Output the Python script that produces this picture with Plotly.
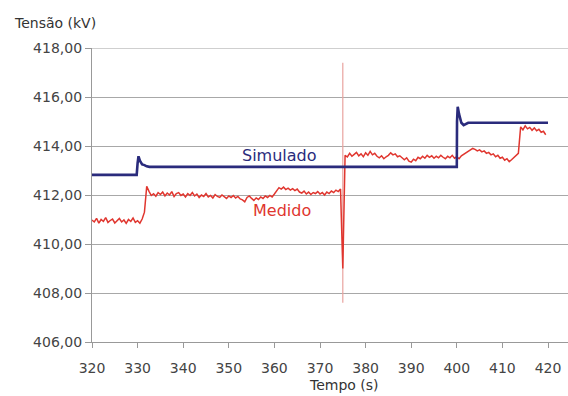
import numpy as np
import plotly.graph_objects as go

# ---- data ----
sim_t = [320.0, 329.8, 330.0, 330.2, 330.5, 331.0, 331.5, 332.0, 332.6, 400.0,
         400.05, 400.2, 400.5, 401.0, 401.5, 402.0, 402.5, 420.0]
sim_v = [412.82, 412.82, 413.30, 413.58, 413.40, 413.25, 413.22, 413.17, 413.15, 413.15,
         415.00, 415.60, 415.30, 414.95, 414.85, 414.90, 414.95, 414.95]

med_v = [
    # 320.0 - 331.5
    410.98, 410.90, 411.05, 410.85, 411.00, 410.92, 411.08, 410.88, 410.96, 411.02,
    410.86, 410.94, 411.04, 410.90, 410.98, 410.84, 411.00, 410.92, 411.06, 410.88,
    410.95, 410.85, 411.02, 411.30,
    # 332.0 - 374.5
    412.35, 412.15, 411.98, 412.05, 411.95, 412.10, 412.02, 412.12, 411.96, 412.08,
    412.00, 412.14, 411.94, 412.06, 412.10, 411.98, 412.04, 411.92, 412.06, 411.98,
    412.10, 411.96, 412.04, 411.90, 412.00, 411.94, 412.06, 411.92, 411.98, 411.88,
    412.02, 411.94, 411.90, 412.00, 411.92, 411.86, 411.96, 411.90, 411.98, 411.88,
    411.94, 411.84, 411.80, 411.72, 411.90, 411.96, 411.86, 411.78, 411.88, 411.82,
    411.92, 411.86, 411.96, 411.90, 411.98, 411.92, 412.04, 412.20, 412.30, 412.24,
    412.32, 412.22, 412.28, 412.20, 412.26, 412.18, 412.24, 412.12, 412.08, 412.16,
    412.04, 412.12, 412.02, 412.10, 412.06, 412.14, 412.04, 412.10, 412.00, 412.12,
    412.06, 412.16, 412.10, 412.20, 412.14, 412.24,
    # 375.0
    409.00,
    # 375.5 - 399.5
    413.62, 413.55, 413.70, 413.58, 413.66, 413.74, 413.60, 413.68, 413.56, 413.72,
    413.62, 413.78, 413.64, 413.70, 413.58, 413.52, 413.60, 413.48, 413.56, 413.62,
    413.72, 413.64, 413.68, 413.56, 413.60, 413.50, 413.44, 413.52, 413.38, 413.34,
    413.46, 413.40, 413.54, 413.48, 413.58, 413.50, 413.62, 413.54, 413.60, 413.50,
    413.58, 413.52, 413.62, 413.54, 413.48, 413.58, 413.52, 413.62, 413.50,
    # 400.0 - 419.5
    413.56, 413.48, 413.60, 413.66, 413.72, 413.78, 413.84, 413.90, 413.86, 413.80,
    413.84, 413.76, 413.80, 413.70, 413.74, 413.64, 413.68, 413.56, 413.62, 413.50,
    413.54, 413.42, 413.48, 413.36, 413.44, 413.52, 413.58, 413.70, 414.78, 414.66,
    414.82, 414.70, 414.76, 414.64, 414.74, 414.62, 414.68, 414.56, 414.60, 414.46,
]
med_t = list(320.0 + 0.5 * np.arange(len(med_v)))

spike_t = [375.0, 375.0]
spike_v = [407.6, 417.4]

x_ticks = [320, 330, 340, 350, 360, 370, 380, 390, 400, 410, 420]
y_ticks = [406, 408, 410, 412, 414, 416, 418]

# ---- layout geometry ----
W, H = 568, 396
ML, MR, MT, MB = 92, 0, 48, 54
PW = W - ML - MR
PH = H - MT - MB

FONT = "DejaVu Sans"
NAVY = "#2a2b7c"
RED = "#e0362f"

fig = go.Figure()
fig.add_trace(go.Scatter(x=spike_t, y=spike_v, mode="lines",
                         line=dict(color="#e9a39f", width=1.2), hoverinfo="skip"))
fig.add_trace(go.Scatter(x=med_t, y=med_v, mode="lines",
                         line=dict(color=RED, width=1.5)))
fig.add_trace(go.Scatter(x=sim_t, y=sim_v, mode="lines",
                         line=dict(color=NAVY, width=2.6)))

# top gridline at the upper range limit
fig.add_shape(type="line", xref="paper", yref="y", x0=0, x1=1,
              y0=y_ticks[-1], y1=y_ticks[-1],
              line=dict(color="#cfcfcf", width=2), layer="below")

fig.add_annotation(x=361.1, y=413.63, text="Simulado", showarrow=False,
                   font=dict(family=FONT, size=16, color=NAVY))
fig.add_annotation(x=361.7, y=411.35, text="Medido", showarrow=False,
                   font=dict(family=FONT, size=16, color=RED))

fig.add_annotation(xref="paper", yref="paper", x=(12 - ML) / PW, y=(H - MB - 23) / PH,
                   xanchor="left", yanchor="middle", text="Tensão (kV)", showarrow=False,
                   font=dict(family=FONT, size=14, color="#333333"))
fig.add_annotation(xref="paper", yref="paper", x=(344 - ML) / PW, y=(H - MB - 385) / PH,
                   xanchor="center", yanchor="middle", text="Tempo (s)", showarrow=False,
                   font=dict(family=FONT, size=14, color="#333333"))

fig.update_layout(
    width=W, height=H,
    margin=dict(l=ML, r=MR, t=MT, b=MB, pad=0),
    paper_bgcolor="white", plot_bgcolor="white",
    showlegend=False,
    separators=",.",
    font=dict(family=FONT, size=14, color="#444444"),
)
fig.update_xaxes(range=[320, 320 + (W - ML) / 4.56], tickvals=x_ticks,
                 showgrid=False, zeroline=False,
                 showline=True, linecolor="#999999", linewidth=1.2,
                 ticks="outside", ticklen=5, tickcolor="#999999",
                 ticklabelstandoff=8,
                 tickfont=dict(family=FONT, size=14, color="#444444"))
fig.update_yaxes(range=[406, 418], tickvals=y_ticks, tickformat=".2f",
                 showgrid=True, gridcolor="#a8a8a8", gridwidth=1.3, zeroline=False,
                 showline=True, linecolor="#999999", linewidth=1.2,
                 ticks="outside", ticklen=6, tickcolor="#999999",
                 tickfont=dict(family=FONT, size=14, color="#444444"))

fig.write_html("out.html")
